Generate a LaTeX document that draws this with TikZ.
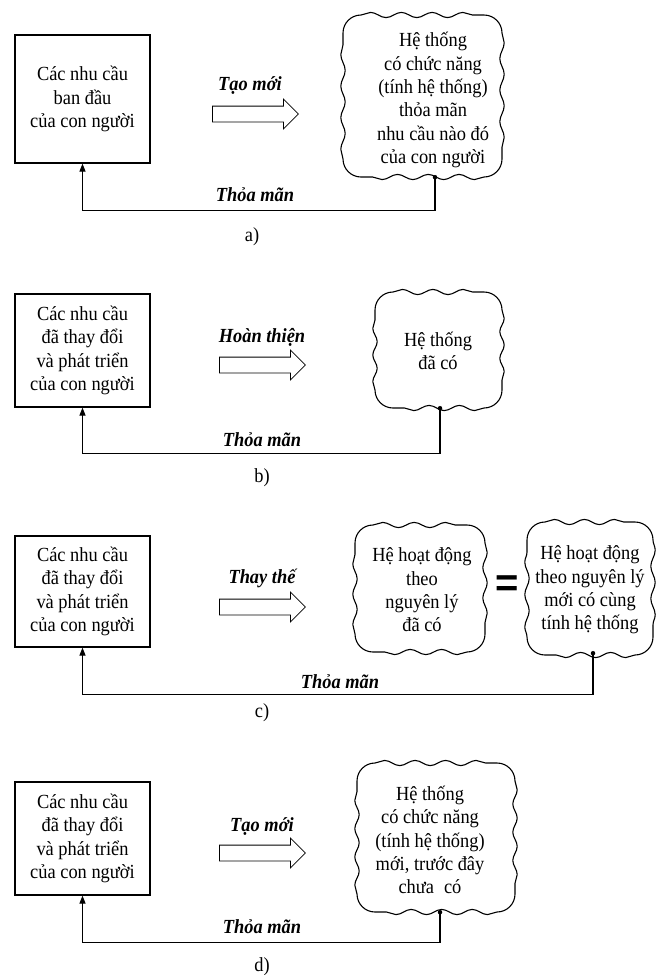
\documentclass[tikz,border=0pt]{standalone}
\usepackage{fontspec}
\setmainfont{Liberation Serif}[FakeStretch=0.92]
\newfontfamily\eqfont{Liberation Sans}
\usetikzlibrary{shapes.arrows,arrows.meta,calc,decorations.pathmorphing}
% #1 name, #2 cx, #3 cy, #4 half width, #5 half height
\newcommand\wavycloud[5]{%
  \node[inner sep=0pt, minimum width=2*#4 pt, minimum height=2*#5 pt] (#1) at (#2,#3) {};
  \pgfmathsetmacro\wcx{(2*#4-36)/max(1,round((2*#4-36)/31))}%
  \pgfmathsetmacro\wcy{(2*#5-36)/max(1,round((2*#5-36)/31))}%
  \draw[cloudline] (#2-#4+18,#3-#5)
    decorate[decoration={snake, amplitude=2.6pt, segment length=\wcx pt}] {-- (#2+#4-18,#3-#5)}
    arc[start angle=-90, end angle=0, radius=18]
    decorate[decoration={snake, amplitude=2.2pt, segment length=\wcy pt}] {-- (#2+#4,#3+#5-18)}
    arc[start angle=0, end angle=90, radius=18]
    decorate[decoration={snake, amplitude=2.6pt, segment length=\wcx pt}] {-- (#2-#4+18,#3+#5)}
    arc[start angle=90, end angle=180, radius=18]
    decorate[decoration={snake, amplitude=2.2pt, segment length=\wcy pt}] {-- (#2-#4,#3-#5+18)}
    arc[start angle=180, end angle=270, radius=18] -- cycle;}
\begin{document}
\begin{tikzpicture}[x=1pt,y=-1pt,
  font=\fontsize{20}{23.3}\selectfont,
  needbox/.style={draw, line width=1.1pt, minimum width=135pt, align=center, inner sep=0pt},
  cloudline/.style={line width=1.1pt, line join=round},
  txt/.style={align=center, inner sep=0pt},
  lbl/.style={font=\fontsize{20}{22}\selectfont\bfseries\itshape, inner sep=0pt},
  sub/.style={inner sep=0pt},
  blockarrow/.style={single arrow, draw, line width=0.8pt, minimum height=86pt,
    inner xsep=0pt, inner ysep=7.5pt, single arrow head extend=7pt, anchor=tail},
  fb/.style={line width=1.1pt, -{Triangle[length=8pt,width=6pt]}},
  dotc/.style={circle, fill, inner sep=0pt, minimum size=4.5pt}
]
\useasboundingbox[fill=white] (0,0) rectangle (664,975);

% ---------- a ----------
\node[needbox, minimum height=128pt] (na) at (82.5,99) {Các nhu cầu\\ban đầu\\của con người};
\node[lbl] (la) at (250,86) {Tạo mới};
\node[blockarrow] (arA) at (212,114) {};
\wavycloud{ca}{422.5}{96}{79.5}{81}
\node[txt] (ta) at (433,100) {Hệ thống\\có chức năng\\(tính hệ thống)\\thỏa mãn\\nhu cầu nào đó\\của con người};
\node[dotc] (dA) at ($(ca.south)+(12.5,0)$) {};
\draw[fb] (dA.center) -- ++(0,33) -| (na.south);
\node[lbl] (fa) at (255,195) {Thỏa mãn};
\node[sub] (sa) at (252,237) {a)};

% ---------- b ----------
\node[needbox, minimum height=113pt] (nb) at (82.5,350.5) {Các nhu cầu\\đã thay đổi\\và phát triển\\của con người};
\node[lbl] (lb) at (262,337) {Hoàn thiện};
\node[blockarrow] (arB) at (219,365) {};
\wavycloud{cb}{438.5}{350}{63.5}{58}
\node[txt] (tb) at (438,351) {Hệ thống\\đã có};
\node[dotc] (dB) at ($(cb.south)+(1.5,0)$) {};
\draw[fb] (dB.center) -- ++(0,45) -| (nb.south);
\node[lbl] (fbl) at (262,440) {Thỏa mãn};
\node[sub] (sb) at (262,478) {b)};

% ---------- c ----------
\node[needbox, minimum height=111pt] (nc) at (82.5,591.5) {Các nhu cầu\\đã thay đổi\\và phát triển\\của con người};
\node[lbl] (lc) at (262,578) {Thay thế};
\node[blockarrow] (arC) at (219,607) {};
\wavycloud{cc1}{420}{588.5}{65}{63.5}
\node[txt] (tc1) at (422,590) {Hệ hoạt động\\theo\\nguyên lý\\đã có};
\node[font=\fontsize{40}{40}\selectfont\eqfont\bfseries, inner sep=0pt] (eq) at (507,586) {=};
\wavycloud{cc2}{590}{588.5}{63}{66.5}
\node[txt] (tc2) at (590,590) {Hệ hoạt động\\theo nguyên lý\\mới có cùng\\tính hệ thống};
\node[dotc] (dC) at ($(cc2.south)+(3,-2)$) {};
\draw[fb] (dC.center) -- ++(0,41) -| (nc.south);
\node[lbl] (fc) at (340,682) {Thỏa mãn};
\node[sub] (sc) at (262,713) {c)};

% ---------- d ----------
\node[needbox, minimum height=113pt] (nd) at (82.5,838.5) {Các nhu cầu\\đã thay đổi\\và phát triển\\của con người};
\node[lbl] (ld) at (262,826) {Tạo mới};
\node[blockarrow] (arD) at (219,853) {};
\wavycloud{cd}{436}{837.5}{79}{74.5}
\node[txt] (td) at (430,840) {Hệ thống\\có chức năng\\(tính hệ thống)\\mới, trước đây\\chưa\enspace có};
\node[dotc] (dD) at ($(cd.south)+(4,0)$) {};
\draw[fb] (dD.center) -- ++(0,30) -| (nd.south);
\node[lbl] (fd) at (262,927) {Thỏa mãn};
\node[sub] (sd) at (262,967) {d)};
\end{tikzpicture}
\end{document}
